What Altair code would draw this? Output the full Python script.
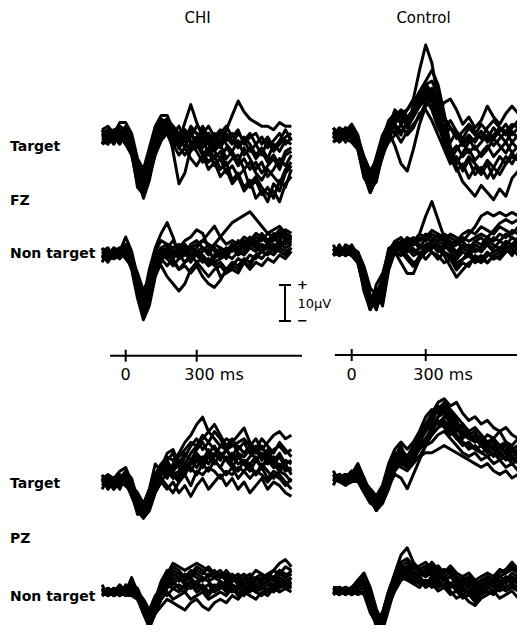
import altair as alt
import pandas as pd

# ---------------- data (microvolts) ----------------
TIMES_MS = list(range(-100, 725, 25))          # 33 samples, -100 .. 700 ms
CONTROL_START_MS = -75                           # control traces start a little later

GROUPS = ["CHI", "Control"]
TICKS_MS = [0, 300]
TICK_LABELS = ["0", "300 ms"]

CHI_FZ_TARGET = [
    [0, 1, 0, 2, 1, -2, -8, -10, -4, 1, 3, 2, -1, 1, 0, 2, 1, -1, 0, -2, -1, 2, 6, 10, 7, 5, 4, 3, 3, 2, 4, 3, 3],
    [1, 0, 2, 1, -1, -3, -12, -15, -8, -2, 2, 1, -3, -1, 4, 9, 4, 0, -2, -4, -6, -3, -5, -8, -6, -9, -7, -10, -8, -6, -9, -5, -4],
    [-1, -2, 0, -1, 0, -4, -14, -16, -9, 0, 5, 4, -4, -13, -10, -3, -1, -4, -7, -5, -9, -7, -12, -10, -14, -12, -17, -15, -18, -13, -15, -10, -8],
    [2, 3, 1, 4, 4, 1, -6, -9, -3, 3, 6, 6, 2, -2, 1, 0, 3, 2, -2, 1, -3, 0, -2, 1, -1, -4, -2, 0, -3, -1, 1, -2, 0],
    [0, -1, 1, 0, 2, -1, -10, -13, -6, -1, 3, 5, 0, -3, -5, -2, -4, -7, -4, -8, -6, -10, -8, -11, -9, -14, -12, -16, -14, -17, -12, -14, -9],
    [-1, 0, -2, 1, -1, -2, -9, -11, -5, 2, 4, 1, -2, 0, -3, 1, -2, 1, 3, 0, 2, -1, 1, -3, -1, 1, -2, -5, -1, -4, -2, 0, 1],
    [1, -1, 0, -2, 1, 0, -7, -12, -10, -3, 1, 3, 1, -1, 2, -1, -3, 0, -5, -3, -2, -6, -4, -7, -3, -6, -9, -7, -11, -9, -6, -8, -5],
    [0, 1, -1, 0, -2, -3, -11, -17, -12, -4, 0, 2, 3, 1, -1, 3, 1, -2, 1, -1, 1, 3, 0, 2, -2, 0, 1, -2, 0, -3, -1, 2, -1],
    [-2, 1, -1, 2, -2, -5, -13, -14, -7, -1, 2, 4, 0, -3, -1, -4, -2, -5, -3, -6, -4, -8, -6, -5, -9, -7, -10, -12, -9, -11, -13, -9, -7],
    [2, -1, 2, 0, 3, 0, -8, -12, -7, 0, 5, 3, 1, 3, -1, 1, -1, 3, 0, -3, 1, -2, -4, -1, -5, -3, -6, -4, -7, -5, -8, -4, -3],
    [-2, -1, 1, -1, 0, -3, -12, -15, -11, -5, -1, 1, -2, -5, -3, -6, -8, -5, -9, -7, -11, -9, -13, -11, -15, -13, -11, -14, -16, -15, -18, -13, -11],
    [1, 2, -1, 3, 2, -1, -9, -14, -9, -2, 4, 5, 3, 0, 2, -2, 0, -3, -1, -4, -2, 1, -1, -3, 0, -2, -5, -3, -6, -2, -4, -1, -2],
]
CONTROL_FZ_TARGET = [
    [0, 1, 0, 2, 1, -2, -8, -12, -6, 0, 3, 4, 6, 7, 10, 18, 25, 20, 10, 2, -4, -8, -5, -2, -1, 1, -2, 0, 2, 1, 3, 2, 1],
    [1, -1, 1, 0, 2, -1, -10, -15, -10, -2, 3, 5, 4, 7, 9, 12, 15, 18, 14, 6, -3, -9, -13, -15, -17, -14, -16, -18, -15, -17, -12, -10, -8],
    [-1, 0, -2, 0, -1, -3, -11, -16, -12, -4, 2, 7, 5, 3, 8, 12, 14, 15, 11, 5, 2, 0, -3, -1, -4, -2, 0, -3, -1, 1, -2, 0, -1],
    [0, -2, -1, 1, 0, -2, -9, -13, -11, -6, -1, 3, 6, 2, 5, 9, 13, 11, 5, -2, -6, -10, -8, -12, -9, -11, -8, -12, -9, -6, -8, -5, -4],
    [1, 0, 2, 1, 3, 0, -7, -11, -8, -2, 1, -3, -8, -10, -4, 3, 8, 10, 6, 9, 10, 7, 3, 5, 2, 4, 8, 5, 3, 6, 8, 6, 5],
    [-1, 1, 0, -1, 1, -1, -6, -10, -7, -1, 3, 2, 0, 4, 6, 8, 10, 7, 2, -1, -5, -3, -6, -4, -7, -5, -3, -6, -4, -2, -5, -3, -2],
    [0, 0, 1, -1, -2, -4, -12, -14, -9, -3, 0, 1, -2, 1, 3, 5, 9, 8, 3, 0, 2, -1, 1, 3, 1, -1, 2, 4, 2, 0, 2, 4, 2],
    [1, 2, 0, 1, 0, -2, -9, -15, -13, -5, -2, 0, 3, 0, 2, 6, 7, 4, 0, -4, -8, -6, -10, -7, -11, -9, -12, -9, -11, -8, -6, -7, -5],
    [2, -1, 1, -2, 1, -3, -10, -13, -8, -1, 4, 6, 3, 5, 7, 10, 12, 10, 4, -3, -7, -4, -2, -5, -3, -6, -4, -1, -3, -5, -2, -4, -3],
    [-2, 1, -1, 2, -1, -2, -8, -14, -11, -4, 1, 4, 6, 4, 7, 11, 14, 12, 8, 1, -2, 1, -1, 2, 0, 3, 1, -1, 1, 3, 0, 2, 1],
    [0, 2, -1, 1, 2, -1, -7, -13, -9, -3, 2, 3, 1, 3, 5, 8, 11, 9, 5, 2, 4, 1, -2, 0, -2, 1, -1, 2, 0, -2, 1, -1, 0],
    [1, -2, 0, 1, -1, -4, -11, -16, -12, -6, 0, 5, 7, 5, 6, 9, 10, 13, 9, 0, -4, -7, -9, -6, -8, -10, -7, -9, -6, -8, -5, -7, -6],
]
CHI_FZ_NONTARGET = [
    [0, 1, 0, 1, -1, -3, -9, -13, -7, -2, 0, 1, -1, 1, 2, 0, 1, 2, 1, 3, 5, 7, 9, 10, 11, 12, 10, 8, 6, 7, 8, 6, 5],
    [1, 0, 2, 1, 5, 1, -6, -12, -4, 2, 6, 9, 5, 0, -2, -1, 1, 0, -2, 0, 2, 1, 3, 2, 4, 3, 5, 4, 6, 5, 4, 6, 5],
    [-1, 0, -1, 0, 0, -2, -10, -17, -11, -4, -3, -6, -8, -10, -8, -4, -2, -1, -3, -2, -1, 0, -1, 1, 0, 2, 1, 3, 2, 3, 2, 4, 3],
    [0, -1, 1, 0, 1, -1, -8, -14, -9, -3, 1, 2, 0, 2, 4, 5, 7, 6, 2, -2, -6, -5, -4, -5, -2, -3, 0, 1, 2, 1, 3, 2, 3],
    [1, 1, 0, -1, 1, 0, -7, -11, -8, -1, 2, 0, 1, -1, 0, 2, 3, 4, 6, 8, 5, 3, 4, 3, 5, 4, 6, 5, 4, 5, 7, 5, 4],
    [-1, 0, 0, 1, -1, -3, -11, -16, -13, -5, -1, 1, -2, -4, -3, -5, -3, -6, -8, -9, -7, -4, -3, -1, -2, 0, -1, 1, 0, 2, 1, 0, 2],
    [0, -1, -1, 0, 1, -2, -9, -15, -10, -2, 0, -1, 1, 0, 1, -1, 0, -2, -1, -3, -2, -4, -2, -3, -1, -2, 0, -1, 1, 0, 2, 1, 2],
    [1, 0, 1, 2, 0, -1, -5, -10, -6, 0, 2, 3, 2, 3, 1, 2, 0, 1, 3, 2, 0, 2, 1, 4, 3, 5, 3, 6, 4, 6, 5, 7, 6],
    [2, -1, 1, -1, 2, -2, -9, -15, -12, -3, 1, -1, -3, -1, 1, -2, 1, -1, -3, -1, 1, -1, 2, 0, 1, 3, 2, 1, 3, 2, 4, 3, 4],
    [-2, 1, -1, 2, 0, -4, -12, -18, -14, -6, -2, 2, 4, 1, 3, 1, 2, 4, 3, 1, -1, 1, 3, 1, 2, 4, 2, 5, 3, 4, 6, 4, 5],
    [0, -2, 1, -1, 2, -1, -7, -12, -10, -5, -1, -3, -1, -4, -2, 0, -2, -4, -6, -4, -3, -5, -3, -4, -2, -4, -2, -3, -1, -2, 0, -1, 1],
    [1, 2, -1, 1, 3, 0, -8, -13, -6, 1, 4, 3, 1, 2, 0, 3, 4, 2, 0, 3, 2, 0, 2, 1, 3, 2, 4, 2, 3, 5, 3, 4, 5],
]
CONTROL_FZ_NONTARGET = [
    [0, 1, 0, 1, 0, -2, -8, -15, -12, -8, -1, 2, 3, 1, 2, 5, 10, 14, 9, 4, 2, 3, 1, 2, 0, 1, 2, 0, 1, 2, 1, 3, 2],
    [1, 0, 1, 0, 1, -1, -6, -13, -16, -9, -2, 1, 2, 3, 2, 4, 3, 5, 4, 3, 5, 4, 3, 5, 7, 10, 11, 10, 11, 10, 11, 10, 11],
    [-1, 0, -1, 0, -1, -3, -10, -16, -11, -15, -5, 0, -3, -6, -6, -2, 0, 2, 1, -1, -4, -7, -5, -3, -2, -3, -1, 0, 1, 0, 2, 1, 2],
    [0, -1, 0, 1, 0, -2, -9, -14, -10, -14, -4, 2, 1, 2, 3, 1, 4, 3, 5, 4, 3, 2, 4, 3, 4, 5, 4, 6, 8, 9, 8, 9, 8],
    [1, 1, 0, -1, 1, 0, -5, -12, -14, -10, -3, 1, 0, 2, 0, 1, 2, 0, -2, 0, -1, -3, -2, 0, -2, -1, -3, -1, 0, 2, 0, 1, 3],
    [0, 1, 1, 0, -1, -2, -11, -16, -9, -6, 0, 3, 4, 2, 3, 2, 1, 3, 2, 1, 2, 0, 2, 1, 3, 2, 4, 3, 5, 4, 6, 5, 6],
    [-1, 0, 0, 1, 0, -1, -7, -13, -13, -12, -2, 0, -1, 1, -1, 0, -2, 0, -1, -3, -2, -4, -2, -1, -3, -2, 0, -2, -1, 1, -1, 2, 1],
    [1, 0, 1, 0, 1, 0, -4, -10, -12, -7, 1, 2, 1, 3, 4, 3, 5, 4, 3, 5, 4, 3, 5, 6, 5, 7, 6, 5, 7, 6, 5, 7, 6],
    [2, -1, 1, -1, 2, -1, -9, -15, -14, -11, -3, 1, 2, 0, 1, -1, 1, 2, 0, 2, 1, -1, 1, 0, 2, 1, 3, 2, 1, 3, 2, 4, 3],
    [-2, 1, -1, 1, -1, -3, -10, -14, -15, -13, -4, 0, 1, -1, -3, -2, 0, 1, 3, 2, 0, -2, 0, -1, 1, 0, 2, 1, 3, 2, 4, 3, 5],
    [0, 2, -1, 2, 1, -1, -6, -12, -16, -8, 0, 3, 2, 4, 3, 5, 4, 6, 5, 3, 1, 2, 3, 1, 3, 4, 2, 4, 3, 5, 4, 3, 4],
    [1, -1, 2, -1, 0, -2, -8, -16, -13, -14, -2, 2, 0, -2, -4, -1, 2, 3, 2, 0, -2, -5, -3, -4, -1, -2, -3, -1, -2, 0, 1, -1, 1],
]
CHI_PZ_TARGET = [
    [0, 1, 0, 2, 1, -2, -6, -8, -3, 2, 5, 7, 6, 8, 11, 13, 16, 18, 14, 12, 10, 9, 11, 8, 7, 9, 6, 8, 5, 7, 4, 6, 5],
    [1, 0, 1, 0, -1, -3, -8, -10, -5, 0, 3, 2, 4, 6, 5, 8, 10, 12, 14, 16, 13, 10, 12, 9, 11, 8, 10, 7, 9, 6, 8, 5, 6],
    [-1, 0, -2, 0, 0, -2, -7, -9, -6, -1, 2, 5, 3, 1, 4, 6, 8, 6, 9, 7, 10, 12, 11, 13, 15, 11, 9, 12, 10, 8, 11, 9, 7],
    [0, -1, 1, -1, 2, 0, -5, -7, -2, 1, 4, 8, 9, 5, 3, 6, 4, 7, 5, 8, 6, 9, 7, 10, 8, 10, 12, 9, 11, 13, 14, 12, 13],
    [1, 2, 1, 3, 4, 0, -4, -10, -8, -3, 0, -2, 0, -3, -1, -4, -1, 1, -2, 0, 2, -1, 1, -2, 0, -3, -1, 1, -2, 0, -1, -3, -4],
    [0, 1, -1, 0, 1, -1, -3, -6, -2, 5, 3, 6, 8, 4, 2, 5, 7, 5, 8, 6, 4, 7, 5, 3, 6, 4, 2, 5, 3, 1, 3, 2, 0],
    [-1, 0, 0, -1, 0, -3, -9, -8, -4, -2, 1, -1, -3, 0, 2, -1, 3, 2, 4, 3, 1, 3, 2, 4, 3, 1, 3, 2, 0, 2, 1, -1, 1],
    [1, 0, 0, 1, -1, -2, -5, -9, -7, -2, 2, 4, 2, 3, 7, 10, 12, 9, 11, 9, 8, 6, 8, 5, 6, 5, 7, 4, 6, 4, 5, 3, 4],
    [2, -1, 1, -2, 2, -1, -6, -9, -5, 1, 4, 6, 3, 5, 8, 6, 9, 11, 8, 10, 7, 9, 6, 8, 5, 7, 9, 6, 8, 5, 7, 4, 3],
    [-2, 1, -1, 1, 0, -4, -8, -10, -7, -2, 0, 3, 1, 2, 5, 3, 6, 4, 7, 5, 8, 6, 4, 7, 5, 3, 6, 4, 7, 5, 3, 5, 2],
    [1, -2, 0, 2, -1, -2, -7, -9, -6, 0, 3, 1, 5, 7, 9, 11, 10, 13, 11, 14, 12, 9, 10, 11, 12, 10, 8, 10, 7, 9, 10, 8, 9],
    [0, 2, -2, 1, 3, 1, -5, -8, -4, 2, 5, 3, 2, 0, 3, 4, 2, 5, 3, 6, 4, 2, 4, 1, 3, 5, 2, 4, 1, 3, 2, 0, -2],
]
CONTROL_PZ_TARGET = [
    [0, 1, 0, 1, 0, 2, -1, -4, -6, -3, 2, 5, 7, 6, 9, 12, 15, 18, 21, 22, 20, 21, 18, 16, 17, 15, 16, 14, 13, 14, 12, 11, 10],
    [1, 0, -1, 0, 1, 4, 0, -5, -8, -6, 0, 6, 9, 4, 7, 11, 14, 17, 20, 19, 16, 13, 15, 12, 13, 10, 12, 11, 13, 10, 9, 11, 9],
    [-1, 0, -1, -2, -1, 0, -3, -6, -9, -7, -2, 1, 0, -3, 1, 5, 9, 12, 14, 15, 13, 11, 9, 10, 8, 9, 7, 8, 6, 7, 5, 6, 5],
    [0, -1, 0, 1, 0, 1, -2, -5, -7, -4, 3, 7, 5, 6, 8, 10, 13, 15, 17, 18, 15, 12, 10, 8, 9, 7, 6, 7, 5, 6, 4, 5, 3],
    [1, 0, 1, 0, -1, -1, -4, -7, -8, -5, -1, 2, 4, 3, 5, 6, 7, 7, 8, 9, 8, 7, 6, 5, 4, 3, 4, 2, 1, 2, 0, 1, 0],
    [0, 1, 0, -1, 1, 2, -1, -3, -5, -2, 4, 8, 10, 8, 10, 13, 17, 19, 18, 20, 18, 16, 12, 11, 12, 10, 8, 9, 7, 8, 6, 7, 6],
    [-1, 0, 0, 1, 0, 0, -3, -6, -9, -6, -1, 3, 6, 4, 6, 9, 11, 13, 16, 14, 12, 14, 11, 13, 10, 12, 9, 11, 8, 10, 8, 9, 7],
    [0, 0, -1, 0, -1, 1, -2, -4, -6, -3, 1, 4, 3, 2, 4, 6, 9, 10, 12, 13, 11, 9, 7, 6, 7, 5, 6, 4, 5, 3, 4, 2, 3],
    [2, -1, 1, -2, 1, 3, 0, -4, -7, -5, 1, 5, 8, 6, 7, 10, 13, 16, 19, 21, 19, 17, 15, 13, 14, 12, 10, 11, 9, 10, 8, 9, 8],
    [-2, 1, -1, 1, -1, 0, -2, -6, -8, -7, -3, 2, 5, 3, 5, 8, 10, 12, 14, 16, 14, 11, 10, 9, 8, 7, 8, 6, 7, 5, 6, 4, 5],
    [1, -2, 1, -1, 0, 1, -3, -5, -9, -5, 0, 4, 7, 5, 7, 11, 14, 16, 15, 17, 16, 14, 13, 11, 10, 11, 9, 10, 8, 9, 7, 8, 6],
    [0, 2, -1, 0, 2, 1, -1, -5, -7, -4, 2, 6, 4, 5, 6, 9, 11, 14, 17, 19, 17, 15, 14, 12, 11, 9, 10, 8, 9, 7, 8, 6, 7],
]
CHI_PZ_NONTARGET = [
    [0, 1, 0, 1, 0, 4, 0, -4, -9, -4, 2, 5, 8, 7, 6, 7, 8, 7, 6, 5, 6, 4, 5, 3, 4, 5, 3, 4, 5, 6, 8, 9, 7],
    [1, 0, 1, -1, 1, 0, -1, -3, -10, -6, -1, 2, 4, 3, 5, 4, 6, 5, 7, 5, 4, 6, 4, 5, 3, 4, 6, 5, 4, 6, 5, 7, 6],
    [-1, 0, -1, 0, -1, -1, -2, -5, -8, -6, -4, -2, -3, -4, -5, -3, -2, -4, -5, -3, -2, -3, -1, -2, 0, -1, -2, 0, -1, 1, 0, 1, 0],
    [0, -1, 0, 1, 0, 1, -1, -6, -7, -2, 3, 6, 5, 4, 2, 3, 1, 2, 0, 2, 1, 3, 2, 1, 2, 3, 1, 2, 3, 2, 4, 3, 4],
    [1, 0, -1, 0, 1, 2, 0, -2, -5, -1, 1, -1, 1, 0, 2, 1, 3, 1, 2, 0, 1, 2, 0, 2, 1, 2, 0, 1, 2, 1, 3, 2, 3],
    [0, 1, 0, 0, -1, 0, -2, -4, -8, -5, 0, 3, 2, 4, 3, 5, 4, 3, 5, 4, 3, 1, 3, 4, 2, 3, 4, 3, 5, 4, 6, 5, 5],
    [-1, 0, 0, -1, 0, 1, -1, -3, -6, -3, -2, 0, -2, -1, 0, -2, -1, 0, -2, -1, 0, -1, 1, 0, -1, 1, 0, -1, 1, 0, 2, 1, 2],
    [0, 0, 1, 0, 1, 0, -1, -5, -9, -3, 1, 4, 6, 5, 4, 6, 5, 4, 3, 4, 5, 3, 4, 2, 3, 4, 2, 3, 4, 3, 5, 4, 5],
    [2, -1, 1, -1, 2, 1, -1, -4, -8, -5, -1, 3, 5, 4, 3, 4, 2, 4, 3, 1, 3, 2, 4, 3, 1, 2, 4, 2, 3, 1, 3, 2, 4],
    [-1, 1, -1, 1, -1, 3, -1, -5, -9, -6, -2, 1, 3, 1, 0, 2, 0, 1, -1, 1, 2, 0, 1, -1, 1, 0, 2, 1, 0, 2, 1, 3, 2],
    [1, -1, 0, 2, 0, 2, 1, -3, -7, -3, 1, 4, 7, 6, 4, 5, 7, 6, 4, 6, 4, 5, 3, 4, 5, 3, 4, 5, 3, 4, 6, 4, 6],
    [0, 1, -1, 1, -1, 1, -2, -6, -10, -4, 0, 2, 1, 2, 1, 3, 2, 1, 2, 1, 2, 0, 2, 1, 0, 2, 1, 2, 0, 1, 3, 2, 1],
]
CONTROL_PZ_NONTARGET = [
    [0, 1, 0, 1, 0, 1, 2, -3, -8, -6, 0, 5, 10, 12, 8, 6, 7, 5, 6, 4, 5, 3, 4, 2, 3, 1, 2, 3, 2, 4, 3, 2, 3],
    [1, 0, 1, 0, 1, 3, 5, 1, -5, -9, -3, 3, 7, 8, 6, 7, 8, 6, 7, 5, 6, 4, 2, 3, 1, 2, 4, 3, 5, 6, 8, 6, 5],
    [-1, 0, -1, 0, -1, 0, -1, -6, -9, -11, -5, 1, 5, 6, 4, 3, 2, 3, 1, 2, 0, -2, -1, -3, -4, -2, -1, 0, -2, -1, 0, -2, -1],
    [0, -1, 0, 1, 0, 1, 3, -2, -7, -8, -2, 4, 6, 7, 5, 4, 6, 4, 5, 3, 4, 2, 3, 1, 2, 0, 1, 2, 1, 3, 2, 4, 3],
    [1, 0, 0, -1, 0, -1, 0, -4, -8, -10, -4, 0, 3, 4, 2, 3, 1, 2, 0, 1, -1, 0, -2, -1, -3, -1, 0, -1, 1, 0, 1, 0, 1],
    [0, 1, 1, 0, 1, 2, 4, 0, -6, -7, -1, 3, 5, 6, 7, 5, 6, 8, 6, 5, 7, 5, 4, 5, 3, 4, 5, 4, 6, 5, 7, 5, 6],
    [-1, 0, 0, 1, -1, 0, 1, -3, -9, -9, -3, 2, 4, 3, 2, 1, 3, 2, 3, 1, 2, 1, -1, 0, -2, 0, 1, 2, 0, 1, 2, 1, 2],
    [0, 0, 1, 0, 0, 1, 2, -4, -10, -6, 0, 4, 8, 9, 7, 5, 4, 5, 3, 4, 2, 3, 1, 2, 0, 1, 3, 2, 3, 2, 4, 3, 4],
    [1, -1, 1, -1, 1, 2, 3, -1, -7, -9, -2, 3, 6, 5, 4, 5, 4, 6, 4, 3, 4, 3, 2, 3, 1, 2, 3, 2, 4, 3, 5, 4, 5],
    [-1, 1, 0, 1, -1, 1, 2, -3, -9, -10, -4, 1, 4, 5, 3, 2, 3, 1, 2, 1, 2, 0, 1, -1, 0, -1, 1, 0, 2, 1, 2, 0, 1],
    [1, 0, -1, 1, 0, 3, 4, 0, -6, -8, -2, 3, 7, 6, 5, 6, 5, 7, 5, 6, 5, 4, 3, 4, 2, 3, 4, 3, 4, 5, 6, 5, 6],
    [0, -1, 1, 0, 1, 1, 2, -2, -8, -9, -3, 2, 5, 4, 3, 4, 2, 4, 2, 3, 1, 2, 0, 1, -1, 1, 2, 1, 2, 3, 3, 2, 3],
]

# ---------------- layout (pixels inside the 509 x 617 drawing) ----------------
W, H = 509, 617
PX_PER_UV = 3.6                                   # 10 uV = 36 px (scale bar)
ZERO_X = {"CHI": 117.7, "Control": 343.7}         # where 0 ms sits
PX_PER_MS = {"CHI": 71 / 300, "Control": 74 / 300}
AXIS_SPAN_MS = {"CHI": (-66, 745), "Control": (-68, 800)}
AXIS_Y = {"CHI": 347.7, "Control": 347.0}

PANELS = [  # (group, baseline y, traces)
    ("CHI", 129, CHI_FZ_TARGET),
    ("Control", 127, CONTROL_FZ_TARGET),
    ("CHI", 247, CHI_FZ_NONTARGET),
    ("Control", 244, CONTROL_FZ_NONTARGET),
    ("CHI", 474, CHI_PZ_TARGET),
    ("Control", 470, CONTROL_PZ_TARGET),
    ("CHI", 584, CHI_PZ_NONTARGET),
    ("Control", 583, CONTROL_PZ_NONTARGET),
]

FONT = "DejaVu Sans"


def x_scale(group):
    z, k = ZERO_X[group], PX_PER_MS[group]
    return alt.Scale(domain=[-z / k, (W - z) / k], nice=False, zero=False)


def y_scale(base):
    return alt.Scale(domain=[(base - H) / PX_PER_UV, base / PX_PER_UV], nice=False, zero=False)


def text(label, x, y, size=14, weight="bold", align="left", baseline="alphabetic"):
    return alt.Chart(pd.DataFrame({"s": [label]})).mark_text(
        font=FONT, fontSize=size, fontWeight=weight, align=align, baseline=baseline, color="black"
    ).encode(text="s:N", x=alt.value(x), y=alt.value(y))


layers = []

for group, base, traces in PANELS:
    rows = []
    for i, tr in enumerate(traces):
        for t, v in zip(TIMES_MS, tr):
            if group == "Control" and t < CONTROL_START_MS:
                continue
            rows.append({"t": t, "v": v, "trace": i})
    df = pd.DataFrame(rows)
    layers.append(
        alt.Chart(df).mark_line(color="black", strokeWidth=3, strokeJoin="round").encode(
            x=alt.X("t:Q", scale=x_scale(group), axis=None),
            y=alt.Y("v:Q", scale=y_scale(base), axis=None),
            detail="trace:N",
        )
    )

# time axes
for group in GROUPS:
    a, b = AXIS_SPAN_MS[group]
    ay = AXIS_Y[group]
    layers.append(
        alt.Chart(pd.DataFrame({"a": [a], "b": [b]})).mark_rule(color="black", strokeWidth=2).encode(
            x=alt.X("a:Q", scale=x_scale(group), axis=None), x2="b:Q", y=alt.value(ay)
        )
    )
    layers.append(
        alt.Chart(pd.DataFrame({"t": TICKS_MS})).mark_rule(color="black", strokeWidth=2).encode(
            x=alt.X("t:Q", scale=x_scale(group), axis=None), y=alt.value(ay - 6), y2=alt.value(ay + 6)
        )
    )
    lab = pd.DataFrame({"t": TICKS_MS, "s": TICK_LABELS})
    layers.append(
        alt.Chart(lab.iloc[[0]]).mark_text(font=FONT, fontSize=16, align="center", baseline="alphabetic").encode(
            x=alt.X("t:Q", scale=x_scale(group), axis=None), y=alt.value(372), text="s:N"
        )
    )
    layers.append(
        alt.Chart(lab.iloc[[1]]).mark_text(font=FONT, fontSize=16, align="left", baseline="alphabetic", dx=-12.5).encode(
            x=alt.X("t:Q", scale=x_scale(group), axis=None), y=alt.value(372), text="s:N"
        )
    )

# scale bar (10 uV)
bar_top, bar_x = 277, 277
bar_bot = bar_top + 10 * PX_PER_UV
layers.append(alt.Chart(pd.DataFrame({"k": [0]})).mark_rule(color="black", strokeWidth=2).encode(
    x=alt.value(bar_x), y=alt.value(bar_top), y2=alt.value(bar_bot)))
for yy in (bar_top, bar_bot):
    layers.append(alt.Chart(pd.DataFrame({"k": [0]})).mark_rule(color="black", strokeWidth=2).encode(
        x=alt.value(bar_x - 6), x2=alt.value(bar_x + 6), y=alt.value(yy)))
layers.append(text("+", 294.5, bar_top, size=13, baseline="middle", align="center"))
layers.append(text("10\u03bcV", 289.5, 300, size=13, weight="normal"))
layers.append(text("\u2212", 294.5, bar_bot, size=13, baseline="middle", align="center"))

# titles and row labels
layers.append(text("CHI", 189.5, 15, size=15, weight="normal", align="center"))
layers.append(text("Control", 415.5, 15, size=15, weight="normal", align="center"))
layers.append(text("Target", 2, 143))
layers.append(text("FZ", 2, 197))
layers.append(text("Non target", 2, 250))
layers.append(text("Target", 2, 480))
layers.append(text("PZ", 2, 535))
layers.append(text("Non target", 2, 593))

chart = (
    alt.layer(*layers)
    .resolve_scale(x="independent", y="independent")
    .properties(width=W, height=H, padding=0, autosize=alt.AutoSizeParams(type="none"), background="white")
    .configure_view(stroke=None)
)

chart.save("out.html", embed_options={"renderer": "svg", "actions": False})
